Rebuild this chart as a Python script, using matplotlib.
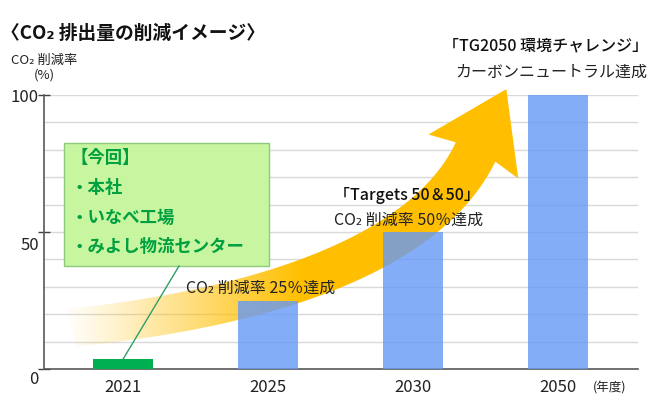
import numpy as np
import matplotlib.pyplot as plt
from matplotlib.path import Path
from matplotlib.patches import PathPatch, Rectangle
import matplotlib.transforms as mtransforms

plt.rcParams['font.family'] = ['Noto Sans CJK JP', 'DejaVu Sans']

# data
years = ['2021', '2025', '2030', '2050']
reduction = [3.6, 25, 50, 100]
bar_colors = ['#00B050', (0.40, 0.60, 0.97, 0.8), (0.40, 0.60, 0.97, 0.8), (0.40, 0.60, 0.97, 0.8)]
y_ticks = [0, 50, 100]
box_lines = ['【今回】', '・本社', '・いなべ工場', '・みよし物流センター']

fig = plt.figure(figsize=(6.5, 3.98), dpi=100)
ax = fig.add_axes([44 / 650, 29 / 398, 594 / 650, 274 / 398])
x = np.arange(len(years))
ax.set_xlim(-0.545, 3.55)
ax.set_ylim(0, 100)

# grid
ax.set_yticks(y_ticks)
ax.set_yticks(np.arange(10, 100, 10), minor=True)
ax.grid(axis='y', which='both', color='#D9D9D9', lw=1, zorder=0)
ax.set_axisbelow(True)
ax.tick_params(axis='y', which='major', direction='inout', length=9, width=1,
               color='#404040', labelleft=False)
ax.tick_params(axis='y', which='minor', length=0)
for s in ['top', 'right']:
    ax.spines[s].set_visible(False)
for s in ['left', 'bottom']:
    ax.spines[s].set_color('#595959')
    ax.spines[s].set_linewidth(1.2)

ax.set_xticks(x)
ax.set_xticklabels(years, fontsize=12, color='#222222')
ax.tick_params(axis='x', length=0, pad=7)

# y labels (drawn by hand, they sit a bit below the ticks)
drops = {0: -11, 50: -13, 100: -2}
for v in y_ticks:
    off = mtransforms.ScaledTranslation(-5 / 100, drops[v] / 100, fig.dpi_scale_trans)
    ax.text(0, v, str(v), transform=ax.get_yaxis_transform() + off,
            ha='right', va='center', fontsize=12, color='#222222')

# curved arrow
def bez(p, t):
    t = t[:, None]
    return (1 - t) ** 3 * p[0] + 3 * (1 - t) ** 2 * t * p[1] + 3 * (1 - t) * t ** 2 * p[2] + t ** 3 * p[3]

ctrl = np.array([[-0.37, 15.0], [1.01, 22.3], [2.10, 42.7], [2.43, 79.2]])
t = np.linspace(0, 1, 120)
pts = ax.transData.transform(bez(ctrl, t))
tan = np.gradient(pts, axis=0)
tan /= np.linalg.norm(tan, axis=1)[:, None]
nrm = np.column_stack([-tan[:, 1], tan[:, 0]])
hw = np.linspace(19, 22, len(t))[:, None]
left = pts + hw * nrm
right = pts - hw * nrm
end, d, n = pts[-1], tan[-1], nrm[-1]
head = [end + 22 * n, end + 50 * n - 5 * d, end + 70 * d, end - 50 * n - 5 * d, end - 22 * n]
poly = np.vstack([left, head, right[::-1]])
poly_data = ax.transData.inverted().transform(poly)
arrow = PathPatch(Path(poly_data, closed=True), transform=ax.transData,
                  facecolor='none', edgecolor='none')

xs = np.linspace(-0.6, 3.0, 400)
px = ax.transData.transform(np.column_stack([xs, np.zeros_like(xs)]))[:, 0]
alpha = np.clip((px - 60) / (300 - 60), 0, 1) ** 1.1
img = np.zeros((1, len(xs), 4))
img[..., 0], img[..., 1], img[..., 2] = 1.0, 0.75, 0.0
img[0, :, 3] = alpha
im = ax.imshow(img, extent=(xs[0], xs[-1], -10, 115), aspect='auto',
               interpolation='bilinear', zorder=2)
im.set_clip_path(arrow)
im.set_clip_box(fig.bbox)
ax.set_xlim(-0.545, 3.55)
ax.set_ylim(0, 100)

# bars
ax.bar(x, reduction, width=0.41, color=bar_colors, zorder=3)

# green box
ax.add_patch(Rectangle((-0.407, 37.6), 1.414, 44.9, facecolor='#C8F5A0',
                       edgecolor='#8CCB7A', lw=1, zorder=4))
for line, yy in zip(box_lines, [77.0, 66.1, 55.1, 44.5]):
    ax.text(-0.36, yy, line, ha='left', va='center', fontsize=12.5,
            fontweight='bold', color='#00A040', zorder=5)
ax.plot([0.386, 0.0], [37.6, 3.6], color='#2E9E6A', lw=1, zorder=4)

# annotations
ax.text(2.91, 118, '「TG2050 環境チャレンジ」', ha='center', va='center',
        fontsize=11.5, color='#111111', fontweight='medium')
ax.text(2.95, 108.4, 'カーボンニュートラル達成', ha='center', va='center',
        fontsize=11.5, color='#222222')
ax.text(1.96, 63.5, '「Targets 50＆50」', ha='center', va='center',
        fontsize=11.5, color='#111111', fontweight='medium', zorder=6)
ax.text(1.97, 54.4, 'CO₂ 削減率 50％達成', ha='center', va='center',
        fontsize=11.5, color='#222222', zorder=6)
ax.text(0.95, 29.6, 'CO₂ 削減率 25％達成', ha='center', va='center',
        fontsize=11.5, color='#222222', zorder=6)

fig.text(0.002, 1 - 33 / 398, '〈CO₂ 排出量の削減イメージ〉', ha='left', va='center',
         fontsize=13.5, fontweight='bold', color='#111111')
fig.text(44 / 650, 1 - 60 / 398, 'CO₂ 削減率', ha='center', va='center',
         fontsize=9.5, color='#222222')
fig.text(44 / 650, 1 - 75 / 398, '(%)', ha='center', va='center',
         fontsize=9.5, color='#222222')
fig.text(610 / 650, 1 - 388 / 398, '(年度)', ha='center', va='center',
         fontsize=9, color='#222222')

fig.savefig('out.png', dpi=100)
